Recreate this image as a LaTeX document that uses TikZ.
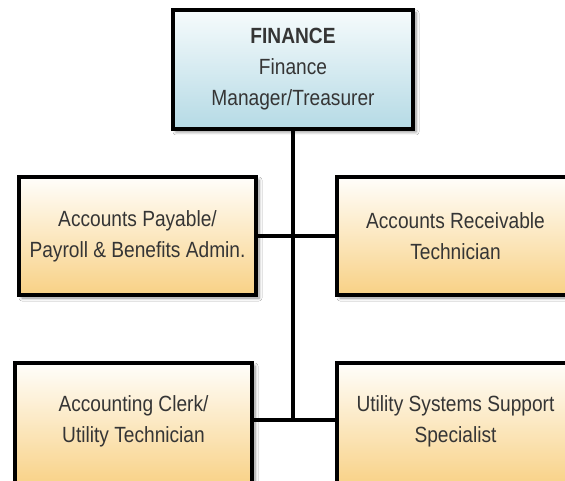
\documentclass[tikz,border=0pt]{standalone}
\usepackage{fontspec}
\setmainfont[FakeStretch=0.87]{Liberation Sans}
\usetikzlibrary{shadows.blur}
\definecolor{txt}{HTML}{353535}
\definecolor{bluebot}{HTML}{B5DAE5}
\definecolor{bluetop}{HTML}{F6FBFC}
\definecolor{orangebot}{HTML}{F8D185}
\definecolor{orangetop}{HTML}{FFFEFB}
\tikzset{
  box/.style={draw=black, line width=4pt, align=center, text=txt,
    font=\fontsize{22}{31}\selectfont, inner sep=0pt,
    minimum width=237pt, minimum height=118pt,
    blur shadow={shadow xshift=3pt, shadow yshift=-3pt, shadow blur steps=6,
      shadow blur radius=3pt, shadow opacity=45}},
  headbox/.style={box, top color=bluetop, bottom color=bluebot},
  staffbox/.style={box, top color=orangetop, bottom color=orangebot},
  tallbox/.style={staffbox, minimum height=124pt},
  link/.style={line width=4pt, draw=black}
}
\begin{document}
\begin{tikzpicture}[x=1pt, y=-1pt]
  \useasboundingbox (0,0) rectangle (565,481);
  \clip (0,0) rectangle (565,481);
  \fill[white] (0,0) rectangle (565,481);

  % department head
  \node[headbox, minimum width=240pt, minimum height=119pt] (fin) at (293,69.5)
    {\textbf{FINANCE}\\Finance\\Manager/Treasurer};

  % staff positions
  \node[staffbox] (ap) at (137.5,236) {Accounts Payable/\\Payroll \& Benefits Admin.};
  \node[staffbox] (ar) at (455.5,236) {Accounts Receivable\\Technician};
  % lower row runs past the page edge; an empty short line lifts the text
  \node[tallbox] (ac) at (133.5,425) {Accounting Clerk/\\Utility Technician\\[-20pt]\mbox{}};
  \node[tallbox] (us) at (455.5,425) {Utility Systems Support\\Specialist\\[-20pt]\mbox{}};

  % reporting lines
  \coordinate (lowl) at ([yshift=5pt]ac.east);
  \coordinate (lowr) at ([yshift=5pt]us.west);
  \coordinate (low) at (fin.south |- lowl);
  \draw[link] (fin.south) -- ([yshift=-2pt]low);
  \draw[link] (ap.east) -- (ar.west);
  \draw[link] (lowl) -- (lowr);
\end{tikzpicture}
\end{document}
